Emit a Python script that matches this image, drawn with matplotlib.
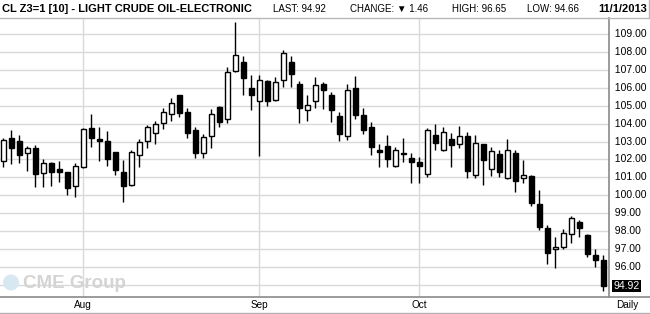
import matplotlib
matplotlib.use("Agg")
import matplotlib.pyplot as plt
from matplotlib.patches import Ellipse
import numpy as np
import pandas as pd

# ---- data ----
dates = [d for d in pd.bdate_range("2013-07-18", "2013-11-01") if d != pd.Timestamp("2013-09-02")]
opens = [101.89, 103.18, 103.01, 102.34, 102.62, 101.22, 101.78, 101.44, 101.28, 100.49,
         101.59, 103.74, 103.14, 103.01, 102.40, 101.28, 100.55, 102.23, 103.01, 103.46,
         104.02, 104.52, 105.59, 104.63, 103.63, 102.34, 103.29, 104.91, 104.24, 106.97,
         107.43, 105.98, 105.25, 106.37, 105.31, 106.43, 107.43, 106.20, 104.75, 105.25,
         106.20, 105.59, 104.41, 103.29, 105.98, 104.47, 103.79, 102.51, 102.73, 101.61,
         102.34, 102.06, 101.84, 101.16, 103.35, 102.51, 103.12, 102.84, 103.29, 101.15,
         102.84, 101.44, 102.28, 100.98, 102.34, 100.94, 101.05, 99.50, 98.14, 97.00,
         97.12, 97.81, 98.53, 97.75, 96.63, 96.39]
highs = [103.18, 103.65, 103.37, 102.75, 102.79, 102.00, 101.87, 101.91, 101.30, 101.82,
         103.74, 104.52, 103.79, 103.59, 102.42, 101.97, 102.53, 103.14, 103.93, 104.15,
         104.86, 105.42, 105.62, 104.86, 103.79, 103.42, 104.82, 104.98, 107.19, 109.71,
         107.79, 106.72, 106.72, 106.43, 106.61, 108.12, 107.79, 106.39, 105.59, 106.61,
         106.33, 105.77, 104.63, 106.20, 106.65, 104.86, 104.07, 102.84, 103.35, 102.69,
         103.18, 102.34, 102.12, 103.74, 103.96, 103.79, 103.46, 103.85, 103.51, 103.35,
         102.86, 102.71, 102.51, 103.12, 102.51, 101.95, 101.11, 100.29, 98.31, 97.68,
         98.09, 98.81, 98.59, 97.81, 97.02, 96.65]
lows = [101.59, 101.76, 101.82, 101.37, 100.47, 100.47, 100.53, 100.75, 100.04, 99.91,
        101.50, 102.71, 101.93, 101.65, 101.15, 99.63, 100.51, 101.56, 102.66, 102.88,
        103.72, 104.17, 104.39, 103.22, 102.10, 102.10, 102.66, 103.83, 104.06, 106.91,
        105.62, 104.78, 102.19, 105.01, 105.28, 106.07, 106.07, 104.06, 104.17, 104.90,
        104.84, 104.11, 103.01, 103.07, 104.24, 103.40, 102.23, 101.56, 101.56, 101.59,
        101.84, 100.66, 100.70, 101.03, 102.54, 102.49, 101.59, 102.62, 100.98, 100.98,
        100.59, 101.09, 101.03, 100.92, 100.19, 100.70, 99.41, 98.07, 96.16, 95.94,
        97.00, 97.34, 97.68, 96.56, 96.00, 94.66]
closes = [103.07, 102.62, 102.26, 102.62, 101.20, 101.78, 101.31, 101.31, 100.42, 101.65,
          103.68, 103.18, 103.01, 102.04, 101.43, 100.49, 102.40, 102.96, 103.79, 103.96,
          104.63, 105.14, 104.62, 103.50, 102.34, 103.24, 104.52, 104.07, 106.87, 107.84,
          106.54, 105.62, 106.43, 105.29, 106.31, 107.94, 106.76, 104.86, 105.06, 106.15,
          105.87, 104.75, 103.40, 105.87, 104.47, 103.63, 102.68, 102.40, 102.00, 102.51,
          102.28, 101.84, 101.61, 103.63, 102.90, 103.51, 102.79, 103.29, 101.37, 102.90,
          101.99, 102.45, 101.31, 102.51, 100.81, 101.11, 99.58, 98.24, 96.78, 97.12,
          97.86, 98.70, 98.14, 96.72, 96.38, 94.92]
ytick_values = [96, 97, 98, 99, 100, 101, 102, 103, 104, 105, 106, 107, 108, 109]
grid_values = [95] + ytick_values
month_labels = ["Aug", "Sep", "Oct"]
title = "CL Z3=1 [10] - LIGHT CRUDE OIL-ELECTRONIC"
last_price = 94.92
header_items = ["LAST: 94.92", "CHANGE: \u25bc 1.46", "HIGH: 96.65", "LOW: 94.66"]
date_label = "11/1/2013"

# ---- figure ----
W, H = 650, 314
fig = plt.figure(figsize=(W / 100, H / 100), dpi=100)
fig.patch.set_facecolor("white")
ax_left, ax_right, ax_top, ax_bot = 0, 609, 17.5, 297
ax = fig.add_axes([ax_left / W, 1 - ax_bot / H, (ax_right - ax_left) / W, (ax_bot - ax_top) / H])

n = len(opens)
x = np.arange(n)
o = np.array(opens); c = np.array(closes); hi = np.array(highs); lo = np.array(lows)

mpos = []
for mnum in [8, 9, 10]:
    mpos.append(next(i for i, d in enumerate(dates) if d.month == mnum))

PX = 8.0        # pixels per bar
PY = 17.88      # pixels per dollar
def py(ypix):
    return 109 - (ypix - 34.3) / PY
def dx(xpix):
    return (xpix - 3.3) / PX

grid_col = "#d9d9d9"
for g in grid_values:
    ax.axhline(g, color=grid_col, lw=1.0, zorder=0)
for p in mpos:
    ax.axvline(p, color=grid_col, lw=1.0, zorder=0)

# watermark
ax.add_patch(Ellipse((dx(11), py(282.5)), 16 / PX, 16 / PY, facecolor="#d8e8f3",
                     edgecolor="none", zorder=1))
ax.text(dx(23), py(283), "CME Group", fontsize=13.5, color="#d4d4d4",
        fontfamily="Liberation Sans", fontweight="bold", va="center", ha="left", zorder=1)

# candles
ax.vlines(x, lo, hi, color="black", lw=1.0, zorder=2)
bottoms = np.minimum(o, c)
heights = np.maximum(np.abs(c - o), 0.06)
face = ["white" if cc >= oo else "black" for oo, cc in zip(o, c)]
ax.bar(x, heights, bottom=bottoms, width=0.62, color=face, edgecolor="black",
       linewidth=1.0, zorder=3)

ax.set_ylim(py(ax_bot), py(ax_top))
ax.set_xlim(dx(ax_left), dx(ax_right))
ax.set_xticks([]); ax.set_yticks([])
for s in ["left", "top", "bottom"]:
    ax.spines[s].set_visible(False)
ax.spines["right"].set_color("#8a8a8a")
ax.spines["right"].set_linewidth(1.2)

# frame lines
for yy, col in [(17.5, "#b8b8b8"), (297, "#8a8a8a"), (313, "#b0b0b0")]:
    fig.add_artist(plt.Line2D([0, 1], [1 - yy / H, 1 - yy / H], transform=fig.transFigure,
                              color=col, lw=1.2 if yy == 297 else 1.0))
fig.add_artist(plt.Line2D([649 / W, 649 / W], [1 - 17.5 / H, 1], transform=fig.transFigure,
                          color="#b8b8b8", lw=1.0))

# right tick labels
for v in ytick_values:
    ax.text(1.0, v, f"  {v:.2f}", transform=ax.get_yaxis_transform(), fontsize=7.5,
            fontfamily="Liberation Sans", va="center", ha="left", clip_on=False)
# last price box
ax.text(dx(613), last_price, f"{last_price:.2f}", fontsize=7.5, color="white",
        fontfamily="Liberation Sans", va="center", ha="left", clip_on=False, zorder=6,
        bbox=dict(boxstyle="square,pad=0.12", facecolor="black", edgecolor="none"))

# month labels
for lab, p in zip(month_labels, mpos):
    fig.text((3.3 + p * PX) / W, 1 - 305.5 / H, lab, fontsize=7.2,
             fontfamily="Liberation Sans", ha="center", va="center")
fig.text(627 / W, 1 - 305.5 / H, "Daily", fontsize=7.2, fontfamily="Liberation Sans",
         ha="center", va="center")

# header
fig.text(2 / W, 1 - 8.5 / H, title, fontsize=8.0, fontweight="bold",
         fontfamily="Liberation Sans", ha="left", va="center")
for xp, t in zip([273, 350, 452, 527], header_items):
    fig.text(xp / W, 1 - 8.5 / H, t, fontsize=7.0, family=["Liberation Sans", "DejaVu Sans"],
             ha="left", va="center")
fig.text(647 / W, 1 - 8.5 / H, date_label, fontsize=8.0, fontweight="bold",
         fontfamily="Liberation Sans", ha="right", va="center")

fig.savefig("out.png", dpi=100, facecolor="white")
